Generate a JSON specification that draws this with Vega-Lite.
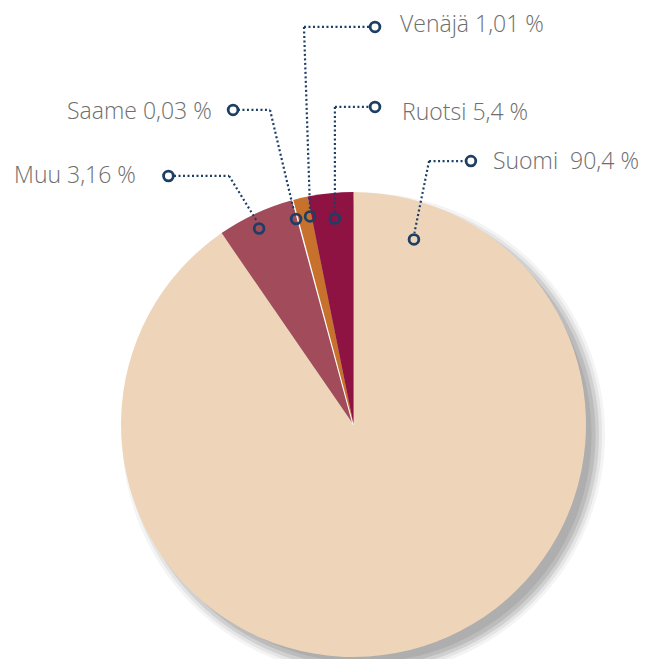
{
  "$schema": "https://vega.github.io/schema/vega-lite/v6.json",
  "width": 465,
  "height": 465,
  "autosize": {"type": "none"},
  "padding": {"left": 121, "top": 192, "right": 68, "bottom": 2},
  "background": "white",
  "config": {
    "view": {"stroke": null},
    "axis": {"disable": true},
    "rule": {"stroke": "#1D3F66", "strokeWidth": 2.2, "strokeDash": [2, 2.5]},
    "point": {"shape": "circle", "filled": false, "stroke": "#1D3F66", "strokeWidth": 2.8, "size": 95, "opacity": 1},
    "text": {"font": "Open Sans", "fontWeight": 300, "fontSize": 23, "fill": "#6E6E6E", "align": "left", "baseline": "alphabetic"}
  },
  "datasets": {
    "languages": [
      {"language": "Suomi", "share": 90.4, "label": "Suomi \u00a090,4 %"},
      {"language": "Ruotsi", "share": 5.4, "label": "Ruotsi 5,4 %"},
      {"language": "Saame", "share": 0.03, "label": "Saame 0,03 %"},
      {"language": "Venäjä", "share": 1.01, "label": "Venäjä 1,01 %"},
      {"language": "Muu", "share": 3.16, "label": "Muu 3,16 %"}
    ]
  },
  "data": {"name": "languages"},
  "layer": [
    {
      "transform": [{"aggregate": [{"op": "sum", "field": "share", "as": "total"}]}],
      "encoding": {
        "theta": {"field": "total", "type": "quantitative"},
        "x": {"datum": 4.3, "type": "quantitative", "scale": {"domain": [-100, 100], "nice": false, "zero": false}},
        "y": {"datum": -4.3, "type": "quantitative", "scale": {"domain": [-100, 100], "nice": false, "zero": false}}
      },
      "layer": [
        {"mark": {"type": "arc", "outerRadius": 241.5, "fill": "#a8a8a8", "opacity": 0.12}},
        {"mark": {"type": "arc", "outerRadius": 238.5, "fill": "#a8a8a8", "opacity": 0.2}},
        {"mark": {"type": "arc", "outerRadius": 235.5, "fill": "#a8a8a8", "opacity": 0.35}},
        {"mark": {"type": "arc", "outerRadius": 232, "fill": "#a8a8a8", "opacity": 0.5}},
        {"mark": {"type": "arc", "outerRadius": 228, "fill": "#a8a8a8", "opacity": 0.7}}
      ]
    },
    {
      "transform": [{"window": [{"op": "row_number", "as": "i"}]}],
      "mark": {"type": "arc", "stroke": "white"},
      "encoding": {
        "theta": {"field": "share", "type": "quantitative", "stack": true},
        "order": {"field": "i", "type": "quantitative"},
        "color": {
          "field": "language",
          "type": "nominal",
          "legend": null,
          "scale": {
            "domain": ["Suomi", "Ruotsi", "Saame", "Venäjä", "Muu"],
            "range": ["#EED5B9", "#A14B5B", "#FFFFFF", "#C8712C", "#8E1242"]
          }
        },
        "strokeWidth": {"condition": {"test": "datum.language === 'Saame'", "value": 2}, "value": 0}
      }
    },
    {
      "transform": [{"filter": "datum.language === 'Venäjä'"}],
      "layer": [
        {"mark": "rule", "encoding": {"x": {"datum": -21.3}, "y": {"datum": 171.0}, "x2": {"datum": 6.7}, "y2": {"datum": 171.0}}},
        {"mark": "rule", "encoding": {"x": {"datum": -21.3}, "y": {"datum": 171.0}, "x2": {"datum": -18.7}, "y2": {"datum": 92.3}}},
        {"mark": "point", "encoding": {"x": {"datum": 9.25}, "y": {"datum": 171.0}}},
        {"mark": "point", "encoding": {"x": {"datum": -18.7}, "y": {"datum": 89.5}}},
        {"mark": "text", "encoding": {"x": {"datum": 20.0}, "y": {"datum": 168.8}, "text": {"field": "label"}}}
      ]
    },
    {
      "transform": [{"filter": "datum.language === 'Saame'"}],
      "layer": [
        {"mark": "rule", "encoding": {"x": {"datum": -49.7}, "y": {"datum": 135.3}, "x2": {"datum": -35.9}, "y2": {"datum": 135.3}}},
        {"mark": "rule", "encoding": {"x": {"datum": -35.9}, "y": {"datum": 135.3}, "x2": {"datum": -25.6}, "y2": {"datum": 91.8}}},
        {"mark": "point", "encoding": {"x": {"datum": -51.8}, "y": {"datum": 135.3}}},
        {"mark": "point", "encoding": {"x": {"datum": -24.7}, "y": {"datum": 88.4}}},
        {"mark": "text", "encoding": {"x": {"datum": -123.2}, "y": {"datum": 131.2}, "text": {"field": "label"}}}
      ]
    },
    {
      "transform": [{"filter": "datum.language === 'Ruotsi'"}],
      "layer": [
        {"mark": "rule", "encoding": {"x": {"datum": -8.0}, "y": {"datum": 136.6}, "x2": {"datum": 6.7}, "y2": {"datum": 136.6}}},
        {"mark": "rule", "encoding": {"x": {"datum": -8.0}, "y": {"datum": 136.6}, "x2": {"datum": -8.0}, "y2": {"datum": 91.4}}},
        {"mark": "point", "encoding": {"x": {"datum": 9.25}, "y": {"datum": 136.6}}},
        {"mark": "point", "encoding": {"x": {"datum": -8.0}, "y": {"datum": 88.6}}},
        {"mark": "text", "encoding": {"x": {"datum": 20.9}, "y": {"datum": 131.0}, "text": {"field": "label"}}}
      ]
    },
    {
      "transform": [{"filter": "datum.language === 'Muu'"}],
      "layer": [
        {"mark": "rule", "encoding": {"x": {"datum": -77.2}, "y": {"datum": 106.9}, "x2": {"datum": -53.5}, "y2": {"datum": 106.9}}},
        {"mark": "rule", "encoding": {"x": {"datum": -53.5}, "y": {"datum": 106.9}, "x2": {"datum": -41.9}, "y2": {"datum": 88.0}}},
        {"mark": "point", "encoding": {"x": {"datum": -79.6}, "y": {"datum": 106.9}}},
        {"mark": "point", "encoding": {"x": {"datum": -40.6}, "y": {"datum": 84.3}}},
        {"mark": "text", "encoding": {"x": {"datum": -146.0}, "y": {"datum": 103.9}, "text": {"field": "label"}}}
      ]
    },
    {
      "transform": [{"filter": "datum.language === 'Suomi'"}],
      "layer": [
        {"mark": "rule", "encoding": {"x": {"datum": 32.5}, "y": {"datum": 113.3}, "x2": {"datum": 47.9}, "y2": {"datum": 113.3}}},
        {"mark": "rule", "encoding": {"x": {"datum": 32.5}, "y": {"datum": 113.3}, "x2": {"datum": 26.2}, "y2": {"datum": 82.4}}},
        {"mark": "point", "encoding": {"x": {"datum": 50.5}, "y": {"datum": 113.3}}},
        {"mark": "point", "encoding": {"x": {"datum": 26.0}, "y": {"datum": 79.6}}},
        {"mark": "text", "encoding": {"x": {"datum": 60.0}, "y": {"datum": 109.7}, "text": {"field": "label"}}}
      ]
    }
  ]
}
